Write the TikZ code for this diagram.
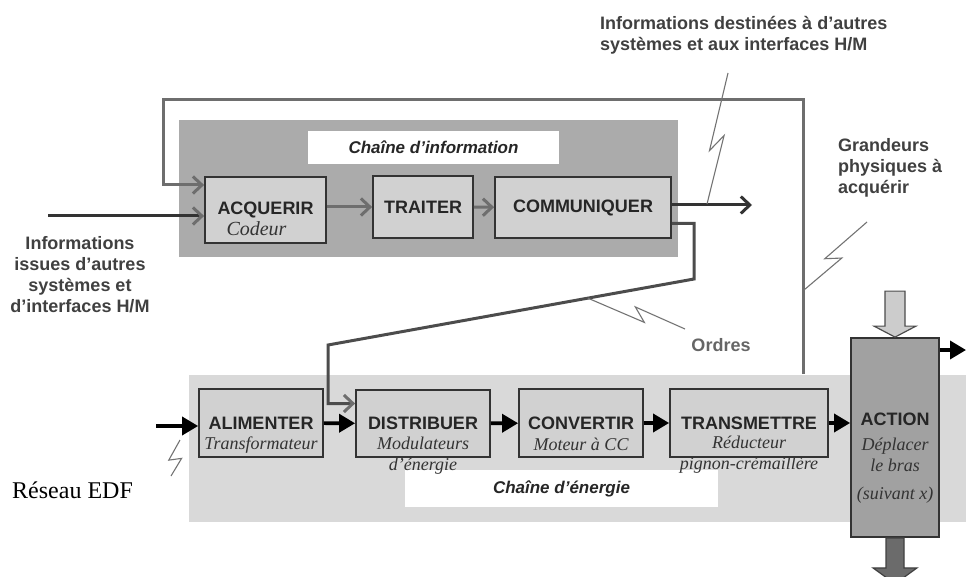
\documentclass[tikz,border=0pt]{standalone}
\usepackage{fontspec}
\setmainfont{Liberation Serif}
\setsansfont{Liberation Sans}
\usetikzlibrary{arrows.meta,calc}
\definecolor{fondinfo}{gray}{0.67}
\definecolor{fondenergie}{gray}{0.85}
\definecolor{fondbloc}{gray}{0.82}
\definecolor{fondaction}{gray}{0.63}
\definecolor{traitgris}{gray}{0.43}
\definecolor{textegris}{gray}{0.25}
\newcommand\eclair[2]{\draw[eclairline] (#1) -- ($(#1)!0.6!(#2)!6pt!-90:(#2)$) -- ($(#1)!0.47!(#2)!6pt!90:(#2)$) -- (#2);}
\begin{document}
\begin{tikzpicture}[x=1pt,y=-1pt,
		nom/.style={font=\sffamily\bfseries\fontsize{18}{21}\selectfont,text=black!85,inner sep=0pt},
		bloc/.style={nom,draw=black!80,line width=1.8pt,fill=fondbloc},
		sous/.style={font=\fontsize{18}{21}\selectfont\itshape,align=center,inner sep=0pt,text=black!80},
		titre/.style={fill=white,font=\sffamily\bfseries\itshape\fontsize{17}{20}\selectfont,text=black!85},
		note/.style={font=\sffamily\bfseries\fontsize{18}{21}\selectfont,text=textegris,inner sep=0pt},
		infofleche/.style={line width=3pt,draw=traitgris,-{Straight Barb[length=9pt,width=17pt,color=traitgris]}},
		enfleche/.style={line width=3.6pt,draw=black,-{Triangle[length=16pt,width=18pt]}},
		eclairline/.style={line width=1.1pt,draw=black!55}]
	\useasboundingbox (0,0) rectangle (966,577);
	\node[fill=fondenergie,minimum width=777pt,minimum height=147pt,inner sep=0pt] (chaineenergie) at (577.5,448.5) {};
	\node[fill=fondinfo,minimum width=499pt,minimum height=137pt,inner sep=0pt] (chaineinfo) at (428.5,188.5) {};
	\node[titre,minimum width=251pt,minimum height=33pt] (titreinfo) at (433.5,147.5) {Chaîne d'information};
	\node[titre,minimum width=313pt,minimum height=37pt] (titreenergie) at (561.5,488.5) {Chaîne d'énergie};
	% chaine d'information
	\node[bloc,minimum width=121pt,minimum height=66pt] (acq) at (265.5,210) {ACQUERIR};
	\node[bloc,minimum width=100pt,minimum height=62pt] (trait) at (423,207) {TRAITER};
	\node[bloc,minimum width=176pt,minimum height=61pt] (comm) at (583,207.5) {COMMUNIQUER};
	\node[sous,font=\fontsize{20}{24}\selectfont\itshape] (codeur) at ([xshift=-9pt,yshift=-19pt]acq.center) {Codeur};
	% chaine d'energie
	\node[bloc,minimum width=124pt,minimum height=68pt] (alim) at (261,423) {ALIMENTER};
	\node[bloc,minimum width=134pt,minimum height=67pt] (distr) at (423,423.5) {DISTRIBUER};
	\node[bloc,minimum width=124pt,minimum height=68pt] (conv) at (581,423) {CONVERTIR};
	\node[bloc,minimum width=158pt,minimum height=68pt] (transm) at (749,423) {TRANSMETTRE};
	\node[bloc,fill=fondaction,minimum width=88pt,minimum height=199pt] (action) at (895,437.5) {};
	\node[nom] (actionnom) at ([yshift=18pt]action.center) {ACTION};
	\node[sous] (transfo) at ([yshift=-22pt]alim.center) {Transformateur};
	\node[sous] (modul) at ([yshift=-32pt]distr.center) {Modulateurs\\d'énergie};
	\node[sous] (moteur) at ([yshift=-21pt]conv.center) {Moteur à CC};
	\node[sous] (reduc) at ([yshift=-32pt]transm.center) {Réducteur\\pignon-crémaillère};
	\node[sous] (deplacer) at ([yshift=-33pt]action.center) {Déplacer\\le bras\\[7pt](suivant x)};
	\draw[draw=black!70,line width=1.2pt,fill=black!20] (action.north) -- ++(21,-11) -- ++(-11,0) -- ++(0,-35) -- ++(-20,0) -- ++(0,35) -- ++(-11,0) -- cycle;
	\draw[draw=black!75,line width=1.2pt,fill=black!58] (action.south) ++(-9,0) -- ++(18,0) -- ++(0,30) -- ++(13,0) -- ++(-22,16) -- ++(-22,-16) -- ++(13,0) -- cycle;
	% textes
	\node[note,anchor=west,align=left] (infodest) at (600,35) {Informations destinées à d'autres\\systèmes et aux interfaces H/M};
	\node[note,align=center] (infoissues) at (80,275) {Informations\\issues d'autres\\systèmes et\\d'interfaces H/M};
	\node[note,anchor=west,align=left] (grandeurs) at (838,168) {Grandeurs\\physiques à\\acquérir};
	\node[note,text=black!60] (ordres) at (721,345) {Ordres};
	\node[font=\fontsize{24}{28}\selectfont,anchor=west,inner sep=0pt] (reseauedf) at (12,490) {Réseau EDF};
	% liaisons
	\coordinate (entreeinfo) at (48,216);
	\coordinate (sortieinfo) at (752,205);
	\coordinate (retour) at (803,374);
	\coordinate (reseau) at (156,426);
	\coordinate (sortieaction) at (966,350);
	\draw[infofleche,draw=black!80] (entreeinfo) -- (acq.west |- entreeinfo);
	\draw[infofleche] (acq.east |- trait.west) -- (trait.west);
	\draw[infofleche] (trait) -- (comm);
	\draw[line width=3pt,draw=black!80,-{Straight Barb[length=9pt,width=17pt]}] (comm.east |- sortieinfo) -- (sortieinfo);
	\draw[infofleche] (retour) |- (163,100) |- ([yshift=25pt]acq.west);
	\draw[infofleche,draw=black!70] ([yshift=-16pt]comm.east) -| (694,279) -- coordinate[pos=0.29] (ordrespt) (328,345) |- ([yshift=20pt]distr.west);
	\draw[enfleche] (reseau) -- (alim.west |- reseau);
	\draw[enfleche] (alim) -- (distr);
	\draw[enfleche] (distr) -- (conv);
	\draw[enfleche] (conv) -- (transm);
	\draw[enfleche] (transm.east) -- (transm.east -| action.west);
	\draw[enfleche] (action.east |- sortieaction) -- (sortieaction);
	% eclairs
	\coordinate (e1a) at (728,73);
	\coordinate (e1b) at (707,204);
	\coordinate (e2b) at (685,329);
	\coordinate (e3a) at (867,222);
	\coordinate (e3b) at (804,290);
	\coordinate (e4a) at (180,440);
	\coordinate (e4b) at (171,476);
	\eclair{e1a}{e1b}
	\eclair{ordrespt}{e2b}
	\eclair{e3a}{e3b}
	\eclair{e4a}{e4b}
\end{tikzpicture}
\end{document}
